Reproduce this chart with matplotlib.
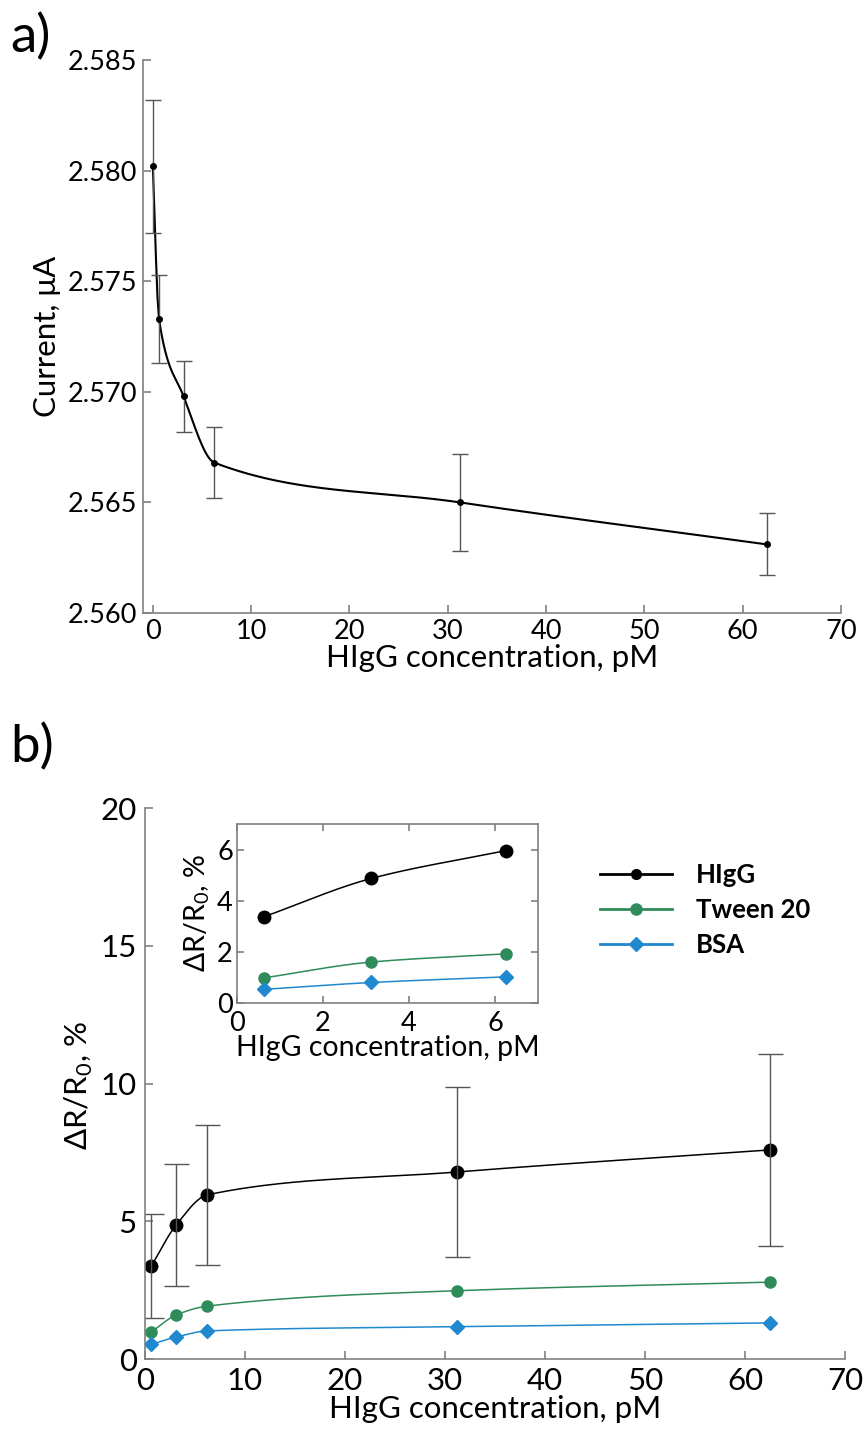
import numpy as np
import matplotlib
matplotlib.use("Agg")
import matplotlib.pyplot as plt

plt.rcParams['font.family'] = ['Lato', 'DejaVu Sans']
plt.rcParams['mathtext.fontset'] = 'custom'
plt.rcParams['mathtext.rm'] = 'Lato'

# panel a) current vs concentration
conc_a = [0, 0.625, 3.125, 6.25, 31.25, 62.5]
current = [2.5802, 2.5733, 2.5698, 2.5668, 2.5650, 2.5631]
current_err = [0.0030, 0.0020, 0.0016, 0.0016, 0.0022, 0.0014]

# panel b) relative resistance change
conc_b = [0.625, 3.125, 6.25, 31.25, 62.5]
higg = [3.37, 4.87, 5.96, 6.79, 7.59]
higg_err = [1.88, 2.21, 2.55, 3.07, 3.49]
tween = [0.98, 1.60, 1.92, 2.48, 2.79]
bsa = [0.53, 0.80, 1.02, 1.17, 1.31]

GRAY = '#808080'
ERR = '#555555'
GREEN = '#2e8b5a'
BLUE = '#1f88cf'


def pchip(x, y, n=400):
    # monotone cubic used only to draw the smooth connecting line
    x = np.asarray(x, float)
    y = np.asarray(y, float)
    h = np.diff(x)
    d = np.diff(y) / h
    m = np.zeros_like(y)
    for k in range(1, len(x) - 1):
        if d[k - 1] * d[k] > 0:
            w1 = 2 * h[k] + h[k - 1]
            w2 = h[k] + 2 * h[k - 1]
            m[k] = (w1 + w2) / (w1 / d[k - 1] + w2 / d[k])
    m[0] = d[0]
    m[-1] = d[-1]
    xs = np.linspace(x[0], x[-1], n)
    idx = np.clip(np.searchsorted(x, xs) - 1, 0, len(x) - 2)
    t = (xs - x[idx]) / h[idx]
    h00 = 2 * t**3 - 3 * t**2 + 1
    h10 = t**3 - 2 * t**2 + t
    h01 = -2 * t**3 + 3 * t**2
    h11 = t**3 - t**2
    ys = h00 * y[idx] + h10 * h[idx] * m[idx] + h01 * y[idx + 1] + h11 * h[idx] * m[idx + 1]
    return xs, ys


def style(ax, box=False):
    for s in ['left', 'bottom', 'top', 'right']:
        ax.spines[s].set_color(GRAY)
        ax.spines[s].set_linewidth(1.2)
    if not box:
        ax.spines['top'].set_visible(False)
        ax.spines['right'].set_visible(False)
    ax.tick_params(direction='in', length=6, width=1.2, color=GRAY,
                   top=box, right=box)


fig = plt.figure(figsize=(8.64, 14.34), dpi=100)

# ---- a)
ax1 = fig.add_axes([0.1655, 0.5725, 0.8079, 0.3857])
style(ax1)
xs, ys = pchip(conc_a, current)
ax1.plot(xs, ys, color='black', lw=1.5)
ax1.errorbar(conc_a, current, yerr=current_err, fmt='o', color='black', ms=4,
             ecolor=ERR, elinewidth=1, capsize=6, capthick=1)
ax1.set_xlim(-1, 70)
ax1.set_ylim(2.560, 2.585)
ax1.set_xticks(range(0, 71, 10))
ax1.set_yticks([2.560, 2.565, 2.570, 2.575, 2.580, 2.585])
ax1.set_yticklabels(['2.560', '2.565', '2.570', '2.575', '2.580', '2.585'])
ax1.tick_params(labelsize=19.5, pad=4)
ax1.set_xlabel('HIgG concentration, pM', fontsize=22.5, labelpad=0)
ax1.set_ylabel('Current, μA', fontsize=22.5, labelpad=5)

# ---- b)
ax2 = fig.add_axes([0.1678, 0.0523, 0.8102, 0.3842])
style(ax2)
for yv, col, mk, ms in [(higg, 'black', 'o', 9), (tween, GREEN, 'o', 8), (bsa, BLUE, 'D', 7)]:
    xs, ys = pchip(conc_b, yv)
    ax2.plot(xs, ys, color=col, lw=1.1)
    ax2.plot(conc_b, yv, mk, color=col, ms=ms, lw=0)
ax2.errorbar(conc_b, higg, yerr=higg_err, fmt='none', ecolor=ERR,
             elinewidth=1, capsize=9, capthick=1)
ax2.set_xlim(0, 70)
ax2.set_ylim(0, 20)
ax2.set_xticks(range(0, 71, 10))
ax2.set_yticks([0, 5, 10, 15, 20])
ax2.tick_params(labelsize=22.5, pad=6)
ax2.set_xlabel('HIgG concentration, pM', fontsize=22.5, labelpad=0)
ax2.set_ylabel(r'ΔR/R$_0$, %', fontsize=22.5)
ax2.yaxis.set_label_coords(-0.072, 0.497)

# legend handles
handles = []
for lab, col, mk, ms in [('HIgG', 'black', 'o', 7), ('Tween 20', GREEN, 'o', 8), ('BSA', BLUE, 'D', 7)]:
    h, = ax2.plot([], [], color=col, marker=mk, ms=ms, lw=2, label=lab)
    handles.append(h)
ax2.legend(handles=handles, loc='center left', bbox_to_anchor=(0.65, 0.815),
           frameon=False, prop={'weight': 'bold', 'size': 18.5},
           handlelength=2.8, handletextpad=0.95, labelspacing=0.42,
           borderpad=0, borderaxespad=0)

# ---- inset
ax3 = fig.add_axes([0.2743, 0.3006, 0.3484, 0.1248])
style(ax3, box=True)
for yv, col, mk, ms in [(higg, 'black', 'o', 9), (tween, GREEN, 'o', 8), (bsa, BLUE, 'D', 7)]:
    xs, ys = pchip(conc_b[:3], yv[:3])
    ax3.plot(xs, ys, color=col, lw=1.1)
    ax3.plot(conc_b[:3], yv[:3], mk, color=col, ms=ms, lw=0)
ax3.set_xlim(0, 7)
ax3.set_ylim(0, 7)
ax3.set_xticks([0, 2, 4, 6])
ax3.set_yticks([0, 2, 4, 6])
ax3.tick_params(labelsize=19.5, length=5)
ax3.tick_params(axis='x', pad=6)
ax3.tick_params(axis='y', pad=3)
ax3.set_xlabel('HIgG concentration, pM', fontsize=20.5, labelpad=-1)
ax3.set_ylabel(r'ΔR/R$_0$, %', fontsize=20.5, labelpad=4)

fig.text(0.012, 0.974, 'a)', fontsize=38, va='center', ha='left')
fig.text(0.012, 0.479, 'b)', fontsize=38, va='center', ha='left')

fig.savefig('out.png', dpi=100)
